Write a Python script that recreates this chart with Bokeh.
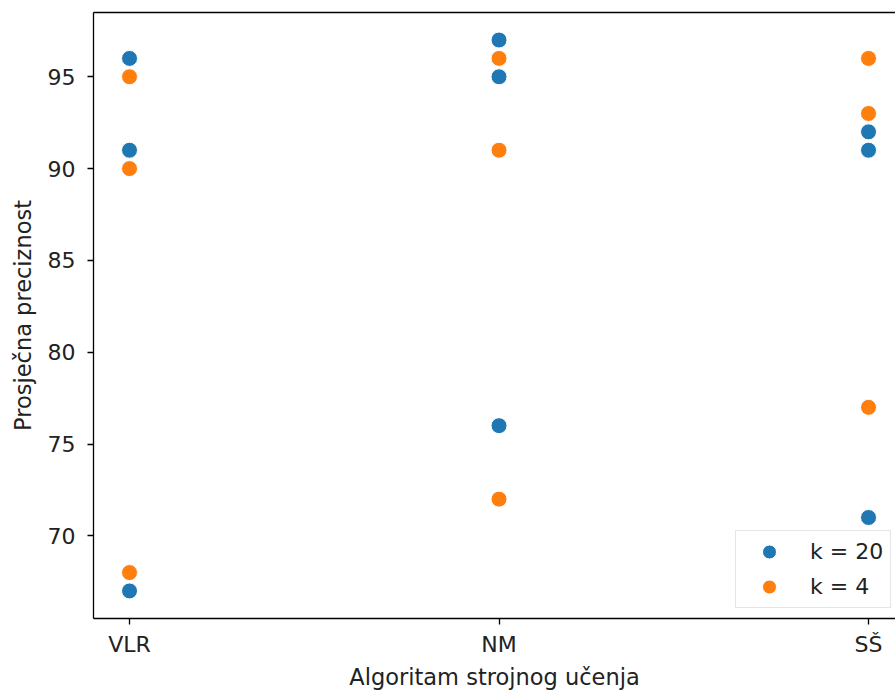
from bokeh.plotting import figure
from bokeh.models import Range1d, FixedTicker, LinearAxis, Legend, LegendItem, ColumnDataSource
from bokeh.embed import file_html
from bokeh.resources import INLINE

categories = ["VLR", "NM", "SŠ"]
k20_vlr = [96, 91, 67]
k20_nm = [97, 95, 76]
k20_ss = [92, 91, 71]
k4_vlr = [95, 90, 68]
k4_nm = [96, 91, 72]
k4_ss = [96, 93, 77]
y_ticks = [70, 75, 80, 85, 90, 95]
series_labels = ["k = 20", "k = 4"]
series_colors = ["#1f77b4", "#ff7f0e"]

def build(groups):
    xs, ys = [], []
    for i, vals in enumerate(groups):
        for v in vals:
            xs.append(i)
            ys.append(v)
    return ColumnDataSource(dict(x=xs, y=ys))

src20 = build([k20_vlr, k20_nm, k20_ss])
src4 = build([k4_vlr, k4_nm, k4_ss])

FONT = "DejaVu Sans"
TXT = "#222222"
FS = "22px"

frame_w = 802
cat_step = 369.5
x0 = -0.0975

p = figure(frame_width=frame_w, frame_height=606, output_backend="svg", toolbar_location=None,
           x_range=Range1d(x0, x0 + frame_w / cat_step), y_range=Range1d(65.5, 98.5),
           min_border_left=93, min_border_right=0, min_border_top=12, min_border_bottom=62)
p.outline_line_color = None
p.xgrid.visible = False
p.ygrid.visible = False
p.background_fill_color = "white"
p.border_fill_color = "white"

for ax in (p.xaxis[0], p.yaxis[0]):
    ax.axis_line_color = "black"
    ax.axis_line_width = 1.3
    ax.major_tick_line_color = "black"
    ax.major_tick_line_width = 1.3
    ax.major_tick_out = 6
    ax.major_tick_in = 0
    ax.minor_tick_line_color = None
    ax.major_label_text_font = FONT
    ax.major_label_text_font_size = FS
    ax.major_label_text_color = TXT
    ax.axis_label_text_font = FONT
    ax.axis_label_text_font_size = FS
    ax.axis_label_text_color = TXT
    ax.axis_label_text_font_style = "normal"

p.xaxis.ticker = FixedTicker(ticks=list(range(len(categories))))
p.xaxis.major_label_overrides = {i: c for i, c in enumerate(categories)}
p.xaxis.axis_label = "Algoritam strojnog učenja"
p.xaxis.axis_label_text_font_size = "22.5px"
p.xaxis.major_label_standoff = 7
p.xaxis.axis_label_standoff = 4

p.yaxis.ticker = FixedTicker(ticks=y_ticks)
p.yaxis.axis_label = "Prosječna preciznost"
p.yaxis.axis_label_text_font_size = "22.5px"
p.yaxis.major_label_standoff = 12
p.yaxis.axis_label_standoff = 9

top = LinearAxis(ticker=FixedTicker(ticks=[]), axis_line_color="black", axis_line_width=1.3,
                 major_tick_line_color=None, minor_tick_line_color=None,
                 major_label_text_font_size="0px")
p.add_layout(top, "above")

r20 = p.scatter("x", "y", source=src20, size=16, fill_color=series_colors[0],
                line_color="white", line_width=1)
r4 = p.scatter("x", "y", source=src4, size=16, fill_color=series_colors[1],
               line_color="white", line_width=1)

legend = Legend(items=[LegendItem(label=series_labels[0], renderers=[r20]),
                       LegendItem(label=series_labels[1], renderers=[r4])],
                location=(642, 10), padding=3, glyph_width=60, glyph_height=35,
                label_height=35, label_width=77, label_standoff=11, spacing=0, margin=0,
                label_text_font=FONT, label_text_font_size=FS, label_text_color=TXT,
                border_line_color="#cccccc", border_line_width=1.3,
                background_fill_color="white", background_fill_alpha=0.8)
p.add_layout(legend)

open("out.html", "w").write(file_html(p, INLINE))
